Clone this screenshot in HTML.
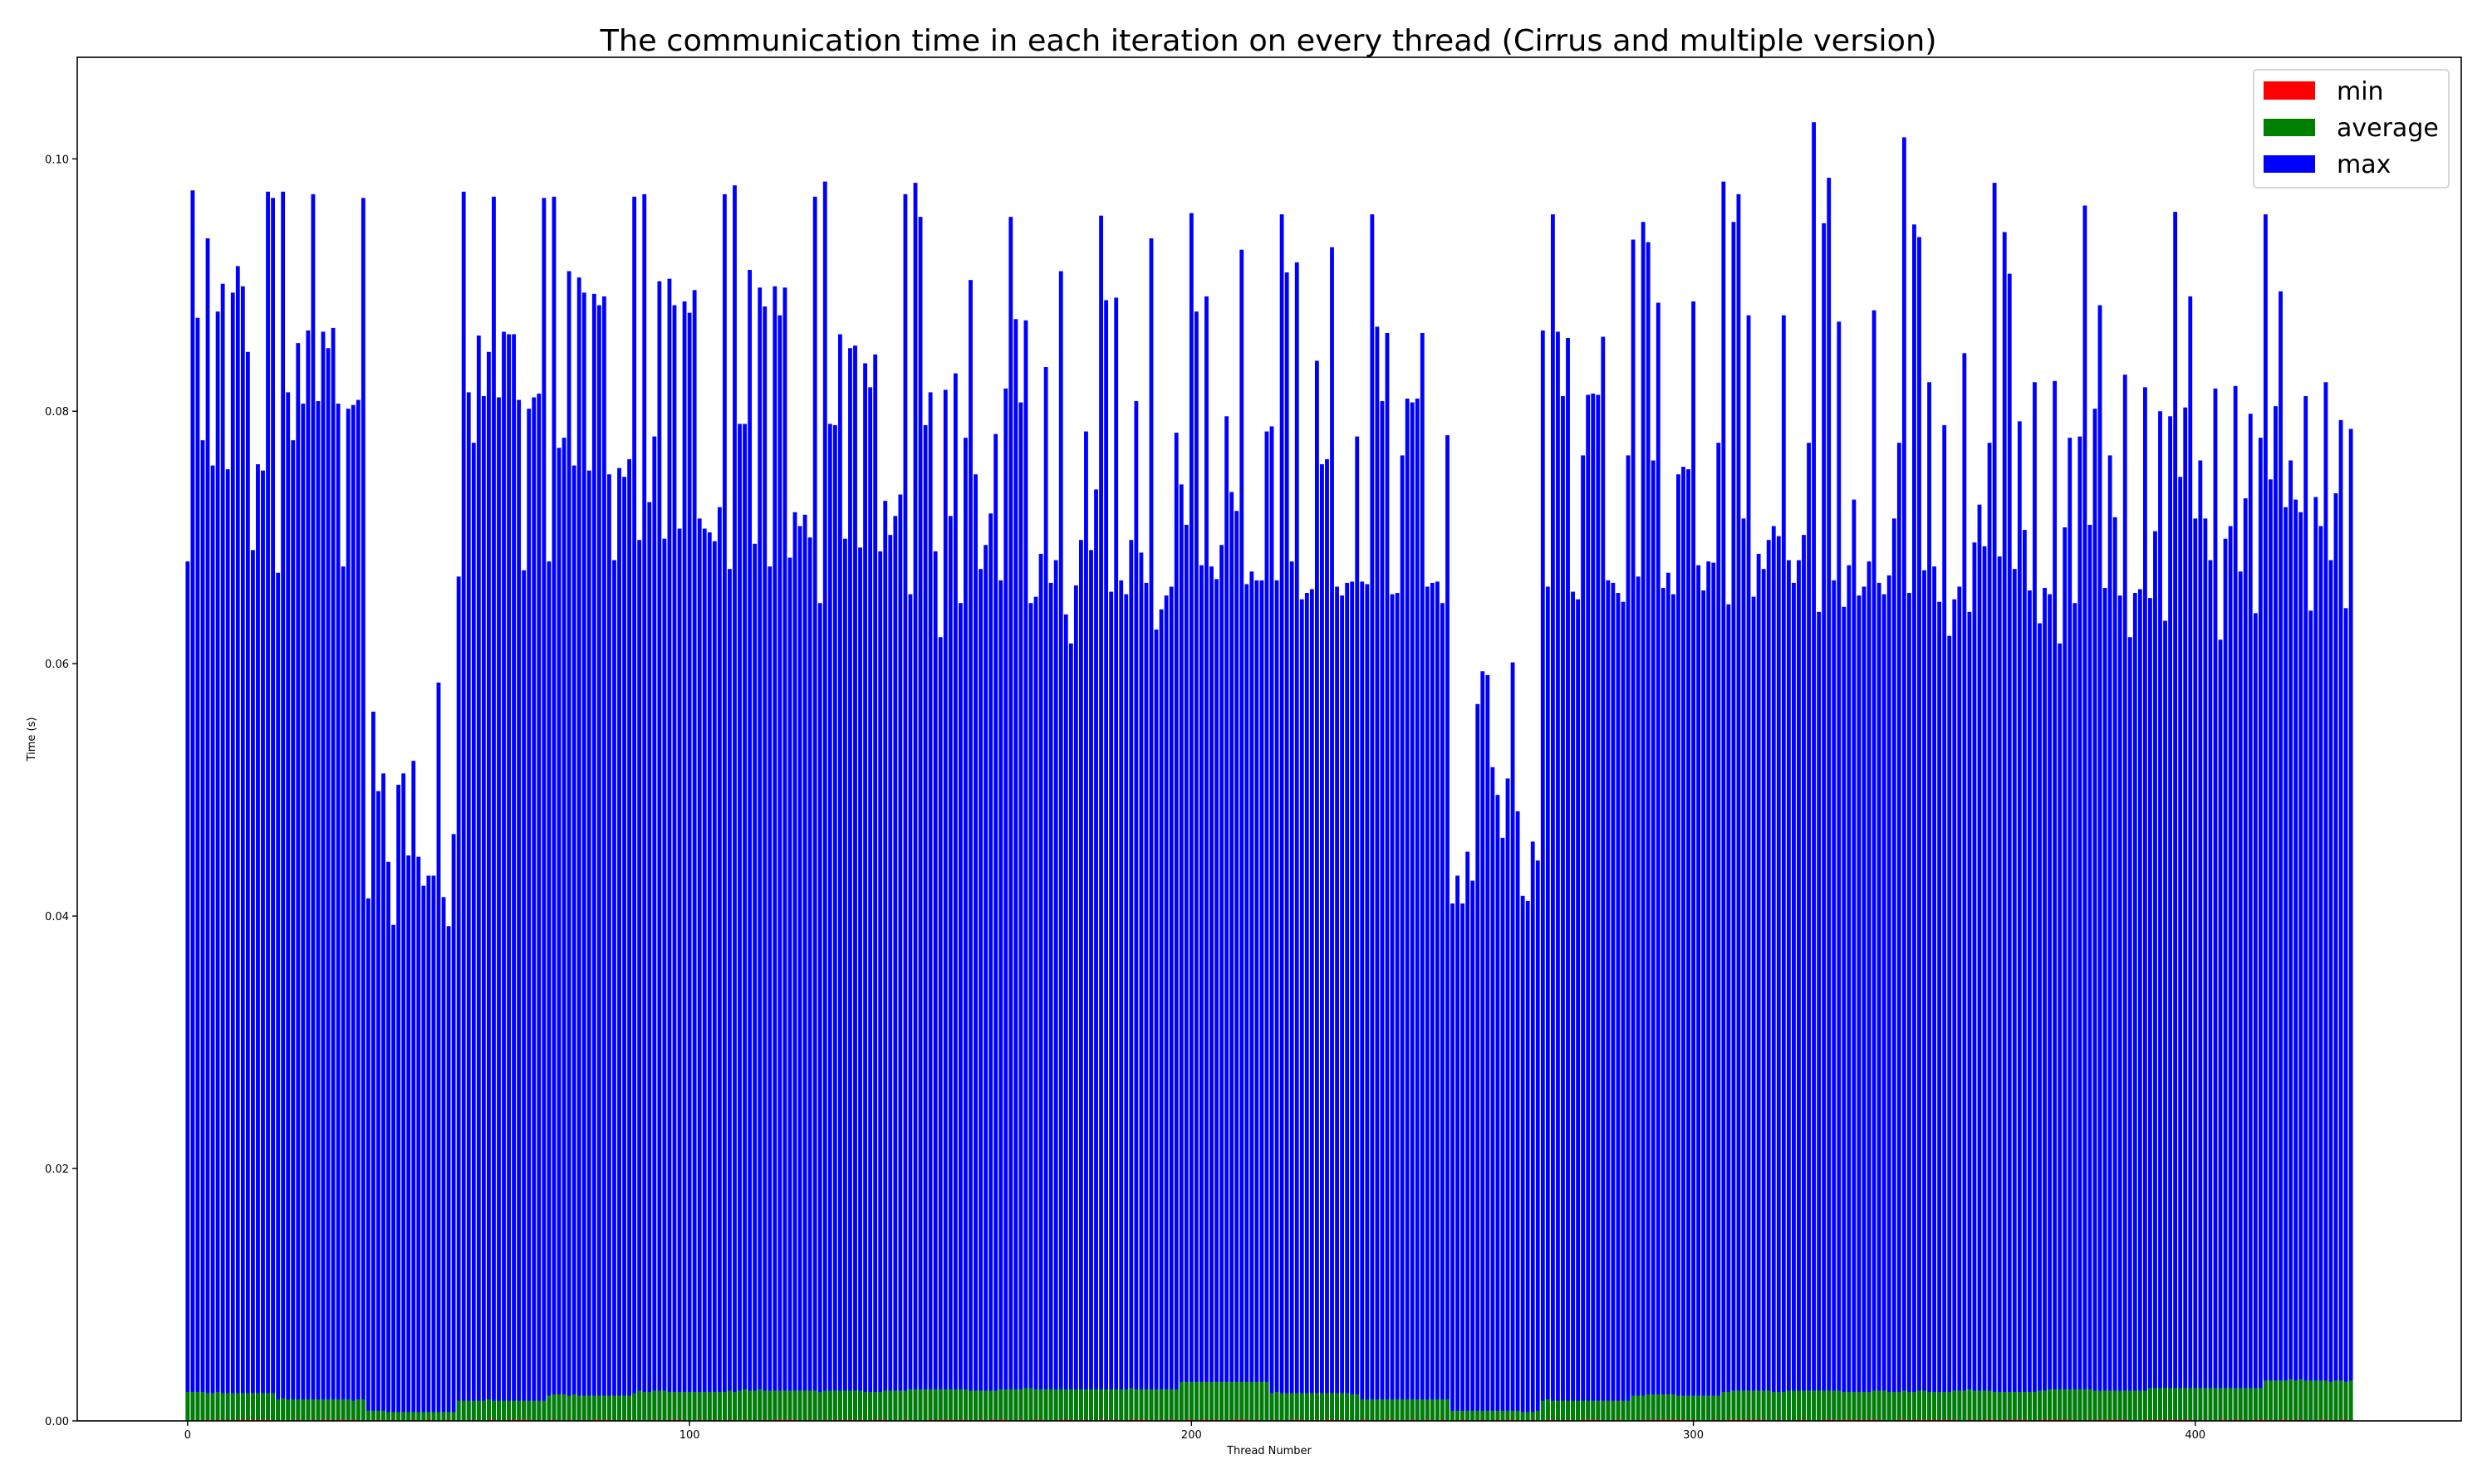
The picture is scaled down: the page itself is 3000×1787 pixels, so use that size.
<!DOCTYPE html>
<html><head><meta charset="utf-8"><style>
html,body{margin:0;padding:0;background:#fff;}
svg{display:block;font-family:"DejaVu Sans","Liberation Sans",sans-serif;}
</style></head><body>
<svg id="chart" width="3000" height="1787" viewBox="0 0 3000 1787" xmlns="http://www.w3.org/2000/svg">
<rect x="0" y="0" width="3000" height="1787" fill="#fff"/>
<text x="1527" y="61" font-size="36" text-anchor="middle" textLength="1609" lengthAdjust="spacingAndGlyphs" fill="#000">The communication time in each iteration on every thread (Cirrus and multiple version)</text>
<g id="bars-max"></g>
<g id="bars-avg"></g>
<g id="bars-min"></g>
<g id="axes"></g>
<text x="1528" y="1751" font-size="13" text-anchor="middle" fill="#000">Thread Number</text>
<text x="0" y="0" font-size="13" text-anchor="middle" fill="#000" transform="translate(42,890) rotate(-90)">Time (s)</text>
<g>
<rect x="2713" y="84" width="235" height="142" rx="4" fill="#fff" fill-opacity="0.8" stroke="#ccc" stroke-width="1.5"/>
<rect x="2725" y="98" width="62" height="22" fill="#ff0000"/>
<text x="2813" y="120" font-size="30" fill="#000">min</text>
<rect x="2725" y="143" width="62" height="21" fill="#008000"/>
<text x="2813" y="164" font-size="30" fill="#000">average</text>
<rect x="2725" y="187" width="62" height="21" fill="#0000ff"/>
<text x="2813" y="208" font-size="30" fill="#000">max</text>
</g>
</svg>
<script>
const maxValues = [
0.0681,0.0975,0.0874,0.0777,0.0937,0.0757,0.0879,0.0901,0.0754,0.0894,0.0915,0.0899,0.0847,0.0690,0.0758,0.0753,0.0974,0.0969,
0.0672,0.0974,0.0815,0.0777,0.0854,0.0806,0.0864,0.0972,0.0808,0.0863,0.0850,0.0866,0.0806,0.0677,0.0802,0.0805,0.0809,0.0969,
0.0414,0.0562,0.0499,0.0513,0.0443,0.0393,0.0504,0.0513,0.0448,0.0523,0.0447,0.0424,0.0432,0.0432,0.0585,0.0415,0.0392,0.0465,
0.0669,0.0974,0.0815,0.0775,0.0860,0.0812,0.0847,0.0970,0.0811,0.0863,0.0861,0.0861,0.0809,0.0674,0.0802,0.0811,0.0814,0.0969,
0.0681,0.0970,0.0771,0.0779,0.0911,0.0757,0.0906,0.0894,0.0753,0.0893,0.0884,0.0891,0.0750,0.0682,0.0755,0.0748,0.0762,0.0970,
0.0698,0.0972,0.0728,0.0780,0.0903,0.0699,0.0905,0.0884,0.0707,0.0887,0.0878,0.0896,0.0715,0.0707,0.0704,0.0697,0.0724,0.0972,
0.0675,0.0979,0.0790,0.0790,0.0912,0.0695,0.0898,0.0883,0.0677,0.0899,0.0876,0.0898,0.0684,0.0720,0.0709,0.0718,0.0700,0.0970,
0.0648,0.0982,0.0790,0.0789,0.0861,0.0699,0.0850,0.0852,0.0692,0.0838,0.0819,0.0845,0.0689,0.0729,0.0702,0.0717,0.0734,0.0972,
0.0655,0.0981,0.0954,0.0789,0.0815,0.0689,0.0621,0.0817,0.0717,0.0830,0.0648,0.0779,0.0904,0.0750,0.0675,0.0694,0.0719,0.0782,
0.0666,0.0818,0.0954,0.0873,0.0807,0.0872,0.0648,0.0653,0.0687,0.0835,0.0664,0.0682,0.0911,0.0639,0.0616,0.0662,0.0698,0.0784,
0.0690,0.0738,0.0955,0.0888,0.0657,0.0890,0.0666,0.0655,0.0698,0.0808,0.0688,0.0664,0.0937,0.0627,0.0643,0.0654,0.0661,0.0783,
0.0742,0.0710,0.0957,0.0879,0.0678,0.0891,0.0677,0.0667,0.0694,0.0796,0.0736,0.0721,0.0928,0.0663,0.0673,0.0666,0.0666,0.0784,
0.0788,0.0666,0.0956,0.0910,0.0681,0.0918,0.0651,0.0656,0.0659,0.0840,0.0758,0.0762,0.0930,0.0661,0.0654,0.0664,0.0665,0.0780,
0.0665,0.0663,0.0956,0.0867,0.0808,0.0862,0.0655,0.0656,0.0765,0.0810,0.0807,0.0810,0.0862,0.0661,0.0664,0.0665,0.0648,0.0781,
0.0410,0.0432,0.0410,0.0451,0.0428,0.0568,0.0594,0.0591,0.0518,0.0496,0.0462,0.0509,0.0601,0.0483,0.0416,0.0412,0.0459,0.0444,
0.0864,0.0661,0.0956,0.0863,0.0812,0.0858,0.0657,0.0651,0.0765,0.0813,0.0814,0.0813,0.0859,0.0666,0.0664,0.0656,0.0649,0.0765,
0.0936,0.0669,0.0950,0.0934,0.0761,0.0886,0.0660,0.0672,0.0655,0.0750,0.0756,0.0754,0.0887,0.0678,0.0658,0.0681,0.0680,0.0775,
0.0982,0.0647,0.0950,0.0972,0.0715,0.0876,0.0653,0.0687,0.0675,0.0698,0.0709,0.0701,0.0876,0.0682,0.0664,0.0682,0.0702,0.0775,
0.1029,0.0641,0.0949,0.0985,0.0666,0.0871,0.0645,0.0678,0.0730,0.0654,0.0661,0.0681,0.0880,0.0664,0.0655,0.0670,0.0715,0.0775,
0.1017,0.0656,0.0948,0.0938,0.0674,0.0823,0.0677,0.0649,0.0789,0.0622,0.0651,0.0661,0.0846,0.0641,0.0696,0.0726,0.0693,0.0775,
0.0981,0.0685,0.0942,0.0909,0.0675,0.0792,0.0706,0.0658,0.0823,0.0632,0.0660,0.0655,0.0824,0.0616,0.0708,0.0779,0.0648,0.0780,
0.0963,0.0710,0.0802,0.0884,0.0660,0.0765,0.0716,0.0654,0.0829,0.0621,0.0656,0.0659,0.0819,0.0652,0.0705,0.0800,0.0634,0.0796,
0.0958,0.0748,0.0803,0.0891,0.0715,0.0761,0.0715,0.0682,0.0818,0.0619,0.0699,0.0709,0.0820,0.0673,0.0731,0.0798,0.0640,0.0779,
0.0956,0.0746,0.0804,0.0895,0.0724,0.0761,0.0730,0.0720,0.0812,0.0642,0.0732,0.0709,0.0823,0.0682,0.0735,0.0793,0.0644,0.0786
];
const avgValues = [
0.0023,0.0023,0.0023,0.0023,0.0022,0.0022,0.0023,0.0022,0.0022,0.0022,0.0022,0.0022,0.0022,0.0022,0.0022,0.0022,0.0022,0.0022,
0.0017,0.0018,0.0017,0.0017,0.0017,0.0017,0.0017,0.0017,0.0017,0.0017,0.0017,0.0017,0.0017,0.0017,0.0017,0.0016,0.0017,0.0017,
0.0008,0.0008,0.0008,0.0008,0.0007,0.0007,0.0007,0.0007,0.0007,0.0007,0.0007,0.0007,0.0007,0.0007,0.0007,0.0007,0.0007,0.0007,
0.0016,0.0016,0.0016,0.0016,0.0016,0.0016,0.0017,0.0016,0.0016,0.0016,0.0016,0.0016,0.0016,0.0016,0.0016,0.0016,0.0016,0.0016,
0.0020,0.0021,0.0021,0.0021,0.0020,0.0021,0.0020,0.0020,0.0020,0.0020,0.0020,0.0020,0.0020,0.0020,0.0020,0.0020,0.0020,0.0022,
0.0024,0.0023,0.0023,0.0024,0.0024,0.0024,0.0023,0.0023,0.0023,0.0023,0.0023,0.0023,0.0023,0.0023,0.0023,0.0023,0.0023,0.0023,
0.0024,0.0023,0.0024,0.0025,0.0024,0.0024,0.0025,0.0024,0.0024,0.0024,0.0024,0.0024,0.0024,0.0024,0.0024,0.0024,0.0024,0.0024,
0.0023,0.0024,0.0024,0.0024,0.0024,0.0024,0.0024,0.0024,0.0024,0.0023,0.0023,0.0023,0.0023,0.0024,0.0024,0.0024,0.0024,0.0024,
0.0025,0.0025,0.0025,0.0025,0.0025,0.0025,0.0025,0.0025,0.0025,0.0025,0.0025,0.0025,0.0024,0.0024,0.0024,0.0024,0.0024,0.0024,
0.0025,0.0025,0.0025,0.0025,0.0025,0.0026,0.0026,0.0025,0.0025,0.0025,0.0025,0.0025,0.0025,0.0025,0.0025,0.0025,0.0025,0.0025,
0.0025,0.0025,0.0025,0.0025,0.0025,0.0025,0.0025,0.0025,0.0026,0.0025,0.0025,0.0025,0.0025,0.0025,0.0025,0.0025,0.0025,0.0025,
0.0031,0.0031,0.0031,0.0031,0.0031,0.0031,0.0031,0.0031,0.0031,0.0031,0.0031,0.0031,0.0031,0.0031,0.0031,0.0031,0.0031,0.0031,
0.0022,0.0023,0.0022,0.0022,0.0022,0.0022,0.0022,0.0022,0.0022,0.0022,0.0022,0.0022,0.0022,0.0022,0.0022,0.0022,0.0021,0.0021,
0.0017,0.0017,0.0017,0.0017,0.0017,0.0017,0.0017,0.0017,0.0017,0.0017,0.0017,0.0017,0.0017,0.0017,0.0017,0.0017,0.0017,0.0017,
0.0008,0.0008,0.0008,0.0008,0.0008,0.0008,0.0008,0.0008,0.0008,0.0008,0.0008,0.0008,0.0008,0.0008,0.0007,0.0007,0.0007,0.0008,
0.0016,0.0017,0.0016,0.0016,0.0016,0.0016,0.0016,0.0016,0.0016,0.0016,0.0016,0.0016,0.0016,0.0016,0.0016,0.0016,0.0016,0.0016,
0.0020,0.0020,0.0020,0.0021,0.0021,0.0021,0.0021,0.0021,0.0021,0.0020,0.0020,0.0020,0.0020,0.0020,0.0020,0.0020,0.0020,0.0020,
0.0023,0.0023,0.0024,0.0024,0.0024,0.0024,0.0024,0.0024,0.0024,0.0024,0.0023,0.0023,0.0023,0.0024,0.0024,0.0024,0.0024,0.0024,
0.0024,0.0024,0.0024,0.0024,0.0024,0.0024,0.0023,0.0023,0.0023,0.0023,0.0023,0.0023,0.0024,0.0024,0.0024,0.0023,0.0023,0.0023,
0.0024,0.0023,0.0023,0.0024,0.0024,0.0023,0.0023,0.0023,0.0023,0.0023,0.0024,0.0024,0.0024,0.0025,0.0024,0.0024,0.0024,0.0024,
0.0023,0.0023,0.0023,0.0023,0.0023,0.0023,0.0023,0.0023,0.0023,0.0024,0.0024,0.0025,0.0025,0.0025,0.0025,0.0025,0.0025,0.0025,
0.0025,0.0025,0.0024,0.0024,0.0024,0.0024,0.0024,0.0024,0.0024,0.0024,0.0024,0.0024,0.0024,0.0026,0.0026,0.0026,0.0026,0.0026,
0.0026,0.0026,0.0026,0.0026,0.0026,0.0026,0.0026,0.0026,0.0026,0.0026,0.0026,0.0026,0.0026,0.0026,0.0026,0.0026,0.0026,0.0026,
0.0032,0.0032,0.0032,0.0032,0.0032,0.0033,0.0032,0.0033,0.0032,0.0032,0.0032,0.0032,0.0032,0.0031,0.0032,0.0032,0.0031,0.0032
];
const minValues = [
0.0000,0.0000,0.0000,0.0000,0.0001,0.0000,0.0001,0.0000,0.0001,0.0000,0.0001,0.0001,0.0001,0.0001,0.0001,0.0001,0.0001,0.0000,
0.0000,0.0000,0.0000,0.0000,0.0001,0.0000,0.0000,0.0001,0.0000,0.0001,0.0001,0.0000,0.0001,0.0001,0.0000,0.0001,0.0000,0.0000,
0.0000,0.0000,0.0001,0.0000,0.0000,0.0001,0.0000,0.0000,0.0000,0.0001,0.0000,0.0000,0.0001,0.0000,0.0000,0.0000,0.0001,0.0000,
0.0000,0.0000,0.0000,0.0001,0.0000,0.0000,0.0001,0.0001,0.0000,0.0000,0.0001,0.0001,0.0001,0.0001,0.0001,0.0000,0.0000,0.0000,
0.0000,0.0001,0.0000,0.0000,0.0001,0.0000,0.0000,0.0001,0.0000,0.0001,0.0001,0.0001,0.0001,0.0000,0.0000,0.0001,0.0000,0.0000,
0.0000,0.0000,0.0000,0.0001,0.0000,0.0000,0.0001,0.0001,0.0001,0.0000,0.0000,0.0000,0.0001,0.0000,0.0000,0.0001,0.0000,0.0000,
0.0001,0.0000,0.0000,0.0001,0.0000,0.0000,0.0000,0.0001,0.0000,0.0001,0.0001,0.0001,0.0001,0.0001,0.0000,0.0000,0.0001,0.0000,
0.0000,0.0001,0.0000,0.0001,0.0000,0.0001,0.0001,0.0000,0.0001,0.0000,0.0000,0.0001,0.0001,0.0001,0.0000,0.0000,0.0000,0.0001,
0.0000,0.0000,0.0000,0.0000,0.0001,0.0000,0.0001,0.0001,0.0001,0.0000,0.0001,0.0001,0.0000,0.0000,0.0001,0.0000,0.0001,0.0001,
0.0001,0.0001,0.0000,0.0000,0.0001,0.0000,0.0000,0.0001,0.0001,0.0000,0.0000,0.0000,0.0001,0.0001,0.0001,0.0000,0.0000,0.0001,
0.0000,0.0000,0.0001,0.0001,0.0000,0.0001,0.0000,0.0000,0.0001,0.0001,0.0001,0.0001,0.0000,0.0000,0.0001,0.0000,0.0001,0.0000,
0.0000,0.0001,0.0001,0.0000,0.0001,0.0001,0.0000,0.0001,0.0000,0.0000,0.0001,0.0001,0.0001,0.0001,0.0000,0.0001,0.0000,0.0000,
0.0001,0.0000,0.0000,0.0000,0.0001,0.0001,0.0001,0.0000,0.0000,0.0001,0.0000,0.0001,0.0001,0.0000,0.0001,0.0000,0.0000,0.0000,
0.0001,0.0001,0.0000,0.0000,0.0000,0.0001,0.0001,0.0000,0.0000,0.0000,0.0001,0.0000,0.0000,0.0001,0.0000,0.0000,0.0001,0.0000,
0.0000,0.0000,0.0001,0.0000,0.0000,0.0000,0.0001,0.0000,0.0000,0.0001,0.0000,0.0001,0.0001,0.0000,0.0000,0.0000,0.0001,0.0000,
0.0000,0.0001,0.0001,0.0000,0.0000,0.0001,0.0000,0.0000,0.0001,0.0001,0.0001,0.0001,0.0000,0.0000,0.0000,0.0001,0.0000,0.0000,
0.0000,0.0000,0.0001,0.0000,0.0001,0.0001,0.0001,0.0001,0.0001,0.0001,0.0001,0.0000,0.0001,0.0000,0.0000,0.0000,0.0001,0.0000,
0.0000,0.0001,0.0001,0.0001,0.0001,0.0001,0.0001,0.0001,0.0001,0.0000,0.0000,0.0001,0.0000,0.0000,0.0000,0.0001,0.0001,0.0000,
0.0000,0.0000,0.0001,0.0001,0.0001,0.0000,0.0001,0.0001,0.0001,0.0001,0.0001,0.0001,0.0001,0.0001,0.0000,0.0000,0.0000,0.0001,
0.0001,0.0000,0.0001,0.0001,0.0001,0.0001,0.0001,0.0001,0.0001,0.0001,0.0001,0.0000,0.0000,0.0001,0.0000,0.0000,0.0001,0.0001,
0.0001,0.0000,0.0001,0.0001,0.0001,0.0001,0.0001,0.0000,0.0000,0.0001,0.0001,0.0001,0.0001,0.0001,0.0001,0.0001,0.0000,0.0000,
0.0000,0.0001,0.0000,0.0001,0.0001,0.0001,0.0001,0.0001,0.0001,0.0000,0.0000,0.0000,0.0001,0.0000,0.0001,0.0001,0.0001,0.0001,
0.0001,0.0001,0.0001,0.0001,0.0000,0.0000,0.0001,0.0000,0.0000,0.0001,0.0001,0.0000,0.0001,0.0001,0.0000,0.0000,0.0001,0.0001,
0.0001,0.0000,0.0000,0.0001,0.0001,0.0000,0.0001,0.0001,0.0000,0.0000,0.0000,0.0001,0.0001,0.0000,0.0000,0.0001,0.0001,0.0000
];
const xTickValues = [0, 100, 200, 300, 400];
const yTickValues = [0, 0.02, 0.04, 0.06, 0.08, 0.10];
const yTickLabels = ["0.00", "0.02", "0.04", "0.06", "0.08", "0.10"];

const NS = "http://www.w3.org/2000/svg";
const plotLeft = 93, plotRight = 2963, plotTop = 69, plotBottom = 1711;
const n = maxValues.length;
const allMax = Math.max.apply(null, maxValues);
const xMin = -0.4 - 0.05 * (n - 1 + 0.8), xMax = (n - 1) + 0.4 + 0.05 * (n - 1 + 0.8);
const yMax = allMax * 1.05;
function xScale(v) { return plotLeft + (v - xMin) / (xMax - xMin) * (plotRight - plotLeft); }
function yScale(v) { return plotBottom - v / yMax * (plotBottom - plotTop); }
const barW = xScale(0.8) - xScale(0);

function drawSeries(groupId, values, color, name) {
  const g = document.getElementById(groupId);
  for (let i = 0; i < values.length; i++) {
    const r = document.createElementNS(NS, "rect");
    const top = yScale(values[i]);
    r.setAttribute("x", (xScale(i) - barW / 2).toFixed(2));
    r.setAttribute("y", top.toFixed(2));
    r.setAttribute("width", barW.toFixed(2));
    r.setAttribute("height", Math.max(0, plotBottom - top).toFixed(2));
    r.setAttribute("fill", color);
    
    
    g.appendChild(r);
  }
}
drawSeries("bars-max", maxValues, "#0000ff", "max-bar");
drawSeries("bars-avg", avgValues, "#008000", "average-bar");
drawSeries("bars-min", minValues, "#ff0000", "min-bar");

const axes = document.getElementById("axes");
const frame = document.createElementNS(NS, "rect");
frame.setAttribute("x", plotLeft); frame.setAttribute("y", plotTop);
frame.setAttribute("width", plotRight - plotLeft); frame.setAttribute("height", plotBottom - plotTop);
frame.setAttribute("fill", "none"); frame.setAttribute("stroke", "#000"); frame.setAttribute("stroke-width", "1.6");


axes.appendChild(frame);

for (let k = 0; k < xTickValues.length; k++) {
  const x = xScale(xTickValues[k]);
  const t = document.createElementNS(NS, "line");
  t.setAttribute("x1", x); t.setAttribute("x2", x);
  t.setAttribute("y1", plotBottom); t.setAttribute("y2", plotBottom + 6);
  t.setAttribute("stroke", "#000"); t.setAttribute("stroke-width", "1.4");
  
  
  axes.appendChild(t);
  const lb = document.createElementNS(NS, "text");
  lb.setAttribute("x", x); lb.setAttribute("y", plotBottom + 21);
  lb.setAttribute("font-size", "13"); lb.setAttribute("text-anchor", "middle");
  lb.textContent = String(xTickValues[k]);
  
  
  axes.appendChild(lb);
}
for (let k = 0; k < yTickValues.length; k++) {
  const y = yScale(yTickValues[k]);
  const t = document.createElementNS(NS, "line");
  t.setAttribute("x1", plotLeft - 6); t.setAttribute("x2", plotLeft);
  t.setAttribute("y1", y); t.setAttribute("y2", y);
  t.setAttribute("stroke", "#000"); t.setAttribute("stroke-width", "1.4");
  
  
  axes.appendChild(t);
  const lb = document.createElementNS(NS, "text");
  lb.setAttribute("x", plotLeft - 10); lb.setAttribute("y", y + 5);
  lb.setAttribute("font-size", "13"); lb.setAttribute("text-anchor", "end");
  lb.textContent = yTickLabels[k];
  
  
  axes.appendChild(lb);
}
</script>
</body></html>
